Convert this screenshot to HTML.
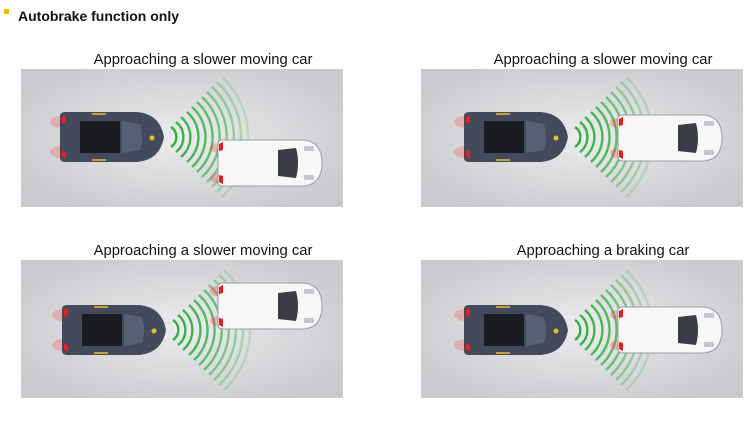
<!DOCTYPE html>
<html><head><meta charset="utf-8"><style>
html,body{margin:0;padding:0;background:#fff;}
body{width:756px;height:419px;overflow:hidden;font-family:"Liberation Sans",sans-serif;}
</style></head><body>
<svg width="756" height="419" viewBox="0 0 756 419" xmlns="http://www.w3.org/2000/svg">
<defs>
<radialGradient id="bg" cx="50%" cy="50%" r="60%">
<stop offset="0" stop-color="#ececee"/><stop offset="1" stop-color="#c9cacd"/>
</radialGradient>
<symbol id="dark" viewBox="0 0 112 50" width="112" height="50" overflow="visible">
<ellipse cx="10" cy="10" rx="12" ry="6" fill="#f33" opacity="0.25"/>
<ellipse cx="10" cy="40" rx="12" ry="6" fill="#f33" opacity="0.25"/>
<path d="M8 4 Q8 0 14 0 L85 0 Q108 2 112 25 Q108 48 85 50 L14 50 Q8 50 8 46 Z" fill="#434a5c"/>
<path d="M10 5 L14 3 L14 10 L10 12 Z M10 45 L14 47 L14 40 L10 38 Z" fill="#e62020"/>
<rect x="28" y="9" width="40" height="32" fill="#1a1c22"/>
<path d="M70 9 L88 12 Q92 25 88 38 L70 41 Z" fill="#566074"/>
<rect x="40" y="1" width="14" height="2" fill="#c9a13a"/>
<rect x="40" y="47" width="14" height="2" fill="#c9a13a"/>
<circle cx="100" cy="26" r="2.5" fill="#e3c21f"/>
</symbol>
<symbol id="white" viewBox="0 0 108 46" width="108" height="46" overflow="visible">
<ellipse cx="4" cy="8" rx="8" ry="5" fill="#f33" opacity="0.3"/>
<ellipse cx="4" cy="38" rx="8" ry="5" fill="#f33" opacity="0.3"/>
<path d="M4 3 Q4 0 10 0 L90 0 Q108 2 108 23 Q108 44 90 46 L10 46 Q4 46 4 43 Z" fill="#f7f7f8" stroke="#9a9ca2" stroke-width="1"/>
<path d="M5 4 L9 2 L9 10 L5 11 Z M5 42 L9 44 L9 36 L5 35 Z" fill="#e02020"/>
<path d="M64 10 L82 8 Q86 23 82 38 L64 36 Z" fill="#3a3d44"/>
<rect x="90" y="6" width="10" height="5" fill="#c5c8cd"/>
<rect x="90" y="35" width="10" height="5" fill="#c5c8cd"/>
</symbol>
<symbol id="arcs" viewBox="-5 -60 100 120" width="100" height="120" overflow="visible">
<g fill="none" stroke="#2fb03e" stroke-width="2.4">
<path d="M5 -10 A12 12 0 0 1 5 10" opacity="1"/>
<path d="M10 -15 A19 19 0 0 1 10 15" opacity="0.95"/>
<path d="M15 -20 A26 26 0 0 1 15 20" opacity="0.92"/>
<path d="M21 -25 A33 33 0 0 1 21 25" opacity="0.88"/>
<path d="M26 -30 A40 40 0 0 1 26 30" opacity="0.82"/>
<path d="M31 -35 A47 47 0 0 1 31 35" opacity="0.75"/>
<path d="M36 -40 A54 54 0 0 1 36 40" opacity="0.66"/>
<path d="M41 -45 A61 61 0 0 1 41 45" opacity="0.56"/>
<path d="M46 -50 A68 68 0 0 1 46 50" opacity="0.45"/>
<path d="M51 -55 A75 75 0 0 1 51 55" opacity="0.33"/>
<path d="M56 -60 A82 82 0 0 1 56 60" opacity="0.2"/>
</g>
</symbol>
</defs>
<rect x="4" y="9" width="5" height="5" fill="#f2b800"/>
<text x="18" y="21" font-size="14" font-weight="bold" fill="#111">Autobrake function only</text>

<text x="203" y="64" font-size="14.8" text-anchor="middle" fill="#111">Approaching a slower moving car</text>
<rect x="21" y="69" width="322" height="138" fill="url(#bg)"/>
<use href="#arcs" x="161" y="77"/>
<use href="#dark" x="52" y="112"/>
<use href="#white" x="214" y="140"/>

<text x="603" y="64" font-size="14.8" text-anchor="middle" fill="#111">Approaching a slower moving car</text>
<rect x="421" y="69" width="322" height="138" fill="url(#bg)"/>
<use href="#arcs" x="565" y="77"/>
<use href="#dark" x="456" y="112"/>
<use href="#white" x="614" y="115"/>

<text x="203" y="255" font-size="14.8" text-anchor="middle" fill="#111">Approaching a slower moving car</text>
<rect x="21" y="260" width="322" height="138" fill="url(#bg)"/>
<use href="#arcs" x="163" y="270"/>
<use href="#dark" x="54" y="305"/>
<use href="#white" x="214" y="283"/>

<text x="603" y="255" font-size="14.8" text-anchor="middle" fill="#111">Approaching a braking car</text>
<rect x="421" y="260" width="322" height="138" fill="url(#bg)"/>
<use href="#arcs" x="565" y="270"/>
<use href="#dark" x="456" y="305"/>
<use href="#white" x="614" y="307"/>
</svg>
</body></html>
